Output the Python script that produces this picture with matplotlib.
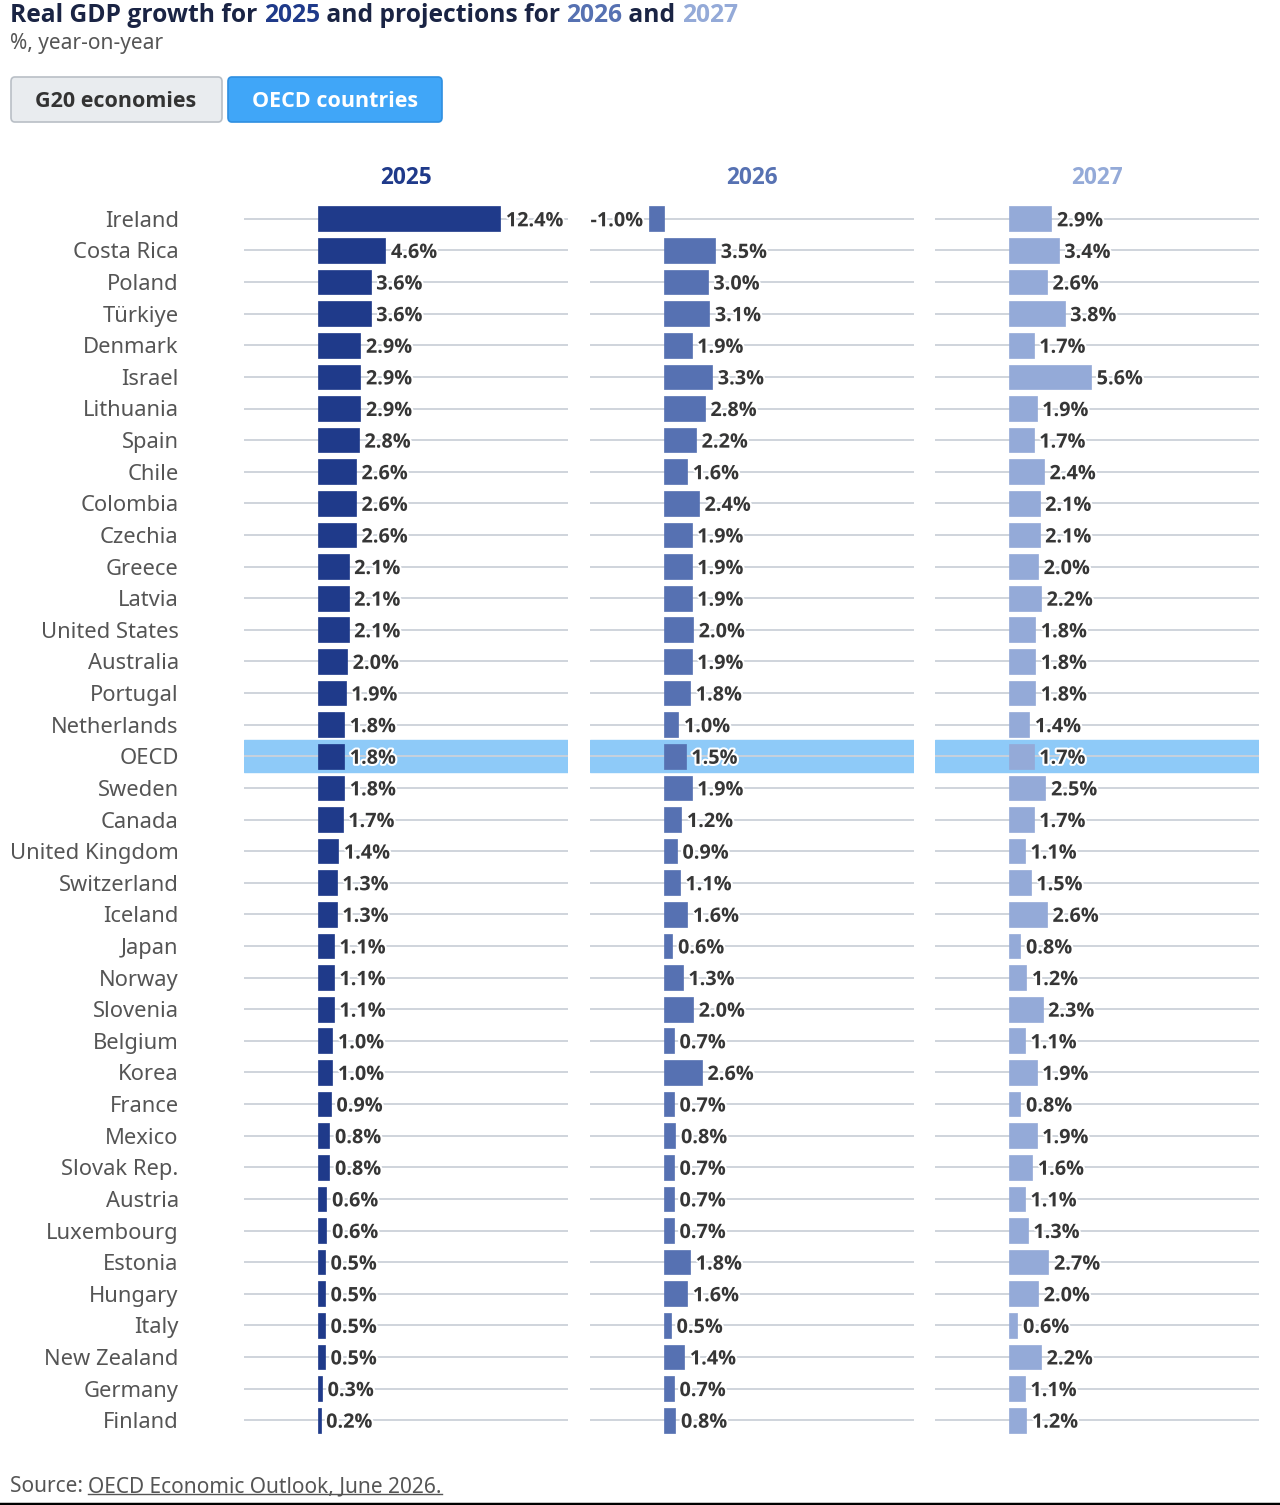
import matplotlib.pyplot as plt
import matplotlib.patheffects as pe
from matplotlib.patches import FancyBboxPatch
from matplotlib.lines import Line2D

plt.rcParams['font.family'] = ['Noto Sans', 'DejaVu Sans']
BOLD = ['Open Sans', 'Noto Sans', 'DejaVu Sans']

countries = ['Ireland', 'Costa Rica', 'Poland', 'Türkiye', 'Denmark', 'Israel', 'Lithuania',
             'Spain', 'Chile', 'Colombia', 'Czechia', 'Greece', 'Latvia', 'United States',
             'Australia', 'Portugal', 'Netherlands', 'OECD', 'Sweden', 'Canada',
             'United Kingdom', 'Switzerland', 'Iceland', 'Japan', 'Norway', 'Slovenia',
             'Belgium', 'Korea', 'France', 'Mexico', 'Slovak Rep.', 'Austria', 'Luxembourg',
             'Estonia', 'Hungary', 'Italy', 'New Zealand', 'Germany', 'Finland']
gdp_2025 = [12.4, 4.6, 3.6, 3.6, 2.9, 2.9, 2.9, 2.8, 2.6, 2.6, 2.6, 2.1, 2.1, 2.1, 2.0, 1.9,
            1.8, 1.8, 1.8, 1.7, 1.4, 1.3, 1.3, 1.1, 1.1, 1.1, 1.0, 1.0, 0.9, 0.8, 0.8, 0.6,
            0.6, 0.5, 0.5, 0.5, 0.5, 0.3, 0.2]
gdp_2026 = [-1.0, 3.5, 3.0, 3.1, 1.9, 3.3, 2.8, 2.2, 1.6, 2.4, 1.9, 1.9, 1.9, 2.0, 1.9, 1.8,
            1.0, 1.5, 1.9, 1.2, 0.9, 1.1, 1.6, 0.6, 1.3, 2.0, 0.7, 2.6, 0.7, 0.8, 0.7, 0.7,
            0.7, 1.8, 1.6, 0.5, 1.4, 0.7, 0.8]
gdp_2027 = [2.9, 3.4, 2.6, 3.8, 1.7, 5.6, 1.9, 1.7, 2.4, 2.1, 2.1, 2.0, 2.2, 1.8, 1.8, 1.8,
            1.4, 1.7, 2.5, 1.7, 1.1, 1.5, 2.6, 0.8, 1.2, 2.3, 1.1, 1.9, 0.8, 1.9, 1.6, 1.1,
            1.3, 2.7, 2.0, 0.6, 2.2, 1.1, 1.2]
years = ['2025', '2026', '2027']
highlight = 'OECD'

colors = ['#1f3a8a', '#5671b2', '#94aad8']
W, H = 1280, 1505
fig = plt.figure(figsize=(W / 100, H / 100), dpi=100)


def fx(px):
    return px / W


def fy(py):
    return 1 - py / H


# panels
n = len(countries)
top_px, bot_px = 203, 1436
lefts = [244, 590, 935]
pw = 324
hi = countries.index(highlight)
series = [gdp_2025, gdp_2026, gdp_2027]

for k, (vals, col, yr) in enumerate(zip(series, colors, years)):
    ax = fig.add_axes([fx(lefts[k]), fy(bot_px), fx(pw), (bot_px - top_px) / H])
    ax.set_xlim(-5, 17)
    ax.set_ylim(n - 0.5, -0.5)
    ypos = list(range(n))
    ax.hlines(ypos, -5, 17, color='#ccd1d9', lw=1.3, zorder=1)
    ax.axhspan(hi - 0.5, hi + 0.5, color='#8ecaf8', zorder=0.5)
    ax.barh(ypos, vals, height=0.78, color=col, zorder=2, edgecolor=col, lw=0.5)
    for i, v in enumerate(vals):
        off, ha = (4, 'left') if v >= 0 else (-4, 'right')
        ax.annotate(f'{v:.1f}%', (v, i), xytext=(off, 0), textcoords='offset points',
                    ha=ha, va='center_baseline', fontsize=14.3, fontweight='bold',
                    family=BOLD, color='#363636', zorder=3,
                    path_effects=[pe.withStroke(linewidth=3, foreground='white')])
    for s in ax.spines.values():
        s.set_visible(False)
    ax.set_xticks([])
    ax.tick_params(axis='y', length=0)
    if k == 0:
        ax.set_yticks(ypos)
        ax.set_yticklabels(countries, fontsize=15.8, color='#555555')
        ax.tick_params(axis='y', pad=47)
    else:
        ax.set_yticks([])
    ax.set_title(yr, color=col, fontsize=16.3, fontweight='bold', family=BOLD, pad=14)

# title with coloured years
fig.canvas.draw()
renderer = fig.canvas.get_renderer()
parts = [('Real GDP growth for ', '#1a2444'), ('2025', colors[0]),
         (' and projections for ', '#1a2444'), ('2026', colors[1]),
         (' and ', '#1a2444'), ('2027', colors[2])]
x = fx(10)
for txt, c in parts:
    t = fig.text(x, fy(13), txt, fontsize=17.7, fontweight='bold', family=BOLD, color=c,
                 va='center_baseline', ha='left')
    bb = t.get_window_extent(renderer)
    x += bb.width / W
fig.text(fx(10), fy(41), '%, year-on-year', fontsize=15, color='#555555',
         va='center_baseline')

# buttons
fig.patches.append(FancyBboxPatch((fx(11), fy(122)), fx(211), 45 / H,
                                  boxstyle='round,pad=0,rounding_size=0.003',
                                  transform=fig.transFigure, facecolor='#e9ecef',
                                  edgecolor='#b9bfc6', lw=1.2))
fig.text(fx(116), fy(99), 'G20 economies', fontsize=15.5, fontweight='bold', family=BOLD,
         color='#333333', ha='center', va='center_baseline')
fig.patches.append(FancyBboxPatch((fx(228), fy(122)), fx(214), 45 / H,
                                  boxstyle='round,pad=0,rounding_size=0.003',
                                  transform=fig.transFigure, facecolor='#40a6f8',
                                  edgecolor='#2f8fe0', lw=1.2))
fig.text(fx(335), fy(99), 'OECD countries', fontsize=15.5, fontweight='bold', family=BOLD,
         color='white', ha='center', va='center_baseline')

# source
s1 = fig.text(fx(10), fy(1484), 'Source: ', fontsize=15, color='#555555',
              va='center_baseline')
bb = s1.get_window_extent(renderer)
sx = fx(10) + bb.width / W
s2 = fig.text(sx, fy(1484), 'OECD Economic Outlook, June 2026.', fontsize=15,
              color='#555555', va='center_baseline')
bb2 = s2.get_window_extent(renderer)
fig.add_artist(Line2D([sx, sx + bb2.width / W], [fy(1494), fy(1494)], color='#555555',
                      lw=1, transform=fig.transFigure))
fig.add_artist(Line2D([0, 1], [fy(1504), fy(1504)], color='black', lw=2.5,
                      transform=fig.transFigure))

fig.savefig('out.png', dpi=100)
